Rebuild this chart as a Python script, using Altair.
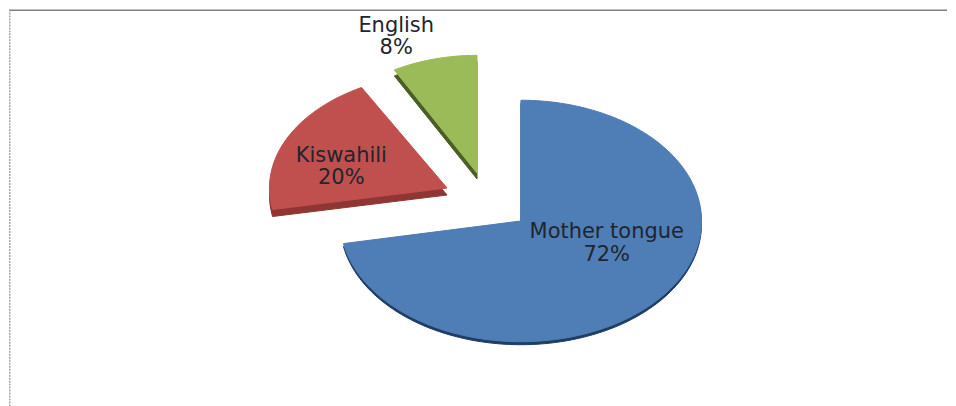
import math
import altair as alt
import pandas as pd

# Chart values
categories = ["Mother tongue", "Kiswahili", "English"]
shares = [72, 20, 8]
percent_labels = ["72%", "20%", "8%"]

# Drawing styles and layout (page pixels)
W, H = 940, 398
face_colors = ["#4f7db6", "#c0504d", "#9bbb59"]
side_colors = ["#1f3d63", "#8f3533", "#4a5f26"]
centres = [(521, 220), (447, 187), (477, 172)]
radii = [(181, 121), (178, 115), (172, 118)]
depths = [3, 7, 6]
label_xy = [(607, 231), (341, 155), (396, 25)]
LINE_GAP = 23

rows, start = [], 0.0
for i, s in enumerate(shares):
    sweep = s / sum(shares) * 2 * math.pi
    cx, cy = centres[i]
    rx, ry = radii[i]
    steps = max(6, int(s * 2))
    pts = [(cx, cy)]
    for k in range(steps + 1):
        t = start + sweep * k / steps
        pts.append((cx + rx * math.sin(t), cy - ry * math.cos(t)))
    pts.append((cx, cy))
    for j, (px, py) in enumerate(pts):
        rows.append({"cat": categories[i], "share": s, "i": j, "x": px, "y": py,
                     "ys": py + depths[i]})
    start += sweep
wedges = pd.DataFrame(rows)

xs = alt.Scale(domain=[8, 8 + W], range=[0, W])
ys = alt.Scale(domain=[8, 8 + H], range=[0, H])
X = alt.X("x:Q", scale=xs, axis=None)

layers = []
for i in [0, 1, 2]:
    sub = wedges[wedges["cat"] == categories[i]]
    base = alt.Chart(sub)
    layers.append(base.mark_line(color=side_colors[i], fill=side_colors[i], strokeWidth=1, interpolate="linear")
                  .encode(x=X, y=alt.Y("ys:Q", scale=ys, axis=None), order="i:Q"))
    layers.append(base.mark_line(color=face_colors[i], fill=face_colors[i], strokeWidth=1, interpolate="linear")
                  .encode(x=X, y=alt.Y("y:Q", scale=ys, axis=None), order="i:Q"))

text_rows = []
for i in range(3):
    lx, ly = label_xy[i]
    text_rows.append({"t": categories[i], "x": lx, "y": ly})
    text_rows.append({"t": percent_labels[i], "x": lx, "y": ly + LINE_GAP - (1 if i else 0)})
labels = alt.Chart(pd.DataFrame(text_rows)).mark_text(
    font="DejaVu Sans", fontSize=21, color="#20252e", align="center", baseline="middle"
).encode(x=X, y=alt.Y("y:Q", scale=ys, axis=None), text="t:N")

top_line = alt.Chart(pd.DataFrame({"a": [0]})).mark_rule(color="#808080", strokeWidth=1.5).encode(
    x=alt.value(0), x2=alt.value(W), y=alt.value(0.75))
left_line = alt.Chart(pd.DataFrame({"a": [0]})).mark_rule(color="#a6a6a6", strokeWidth=1.5, strokeDash=[2, 1]).encode(
    x=alt.value(0.75), y=alt.value(0), y2=alt.value(H))

chart = alt.layer(top_line, left_line, *layers, labels).properties(
    width=W, height=H, padding=0, background="white"
).configure_view(stroke=None)

chart.save("out.html", embed_options={"renderer": "svg", "actions": False})
